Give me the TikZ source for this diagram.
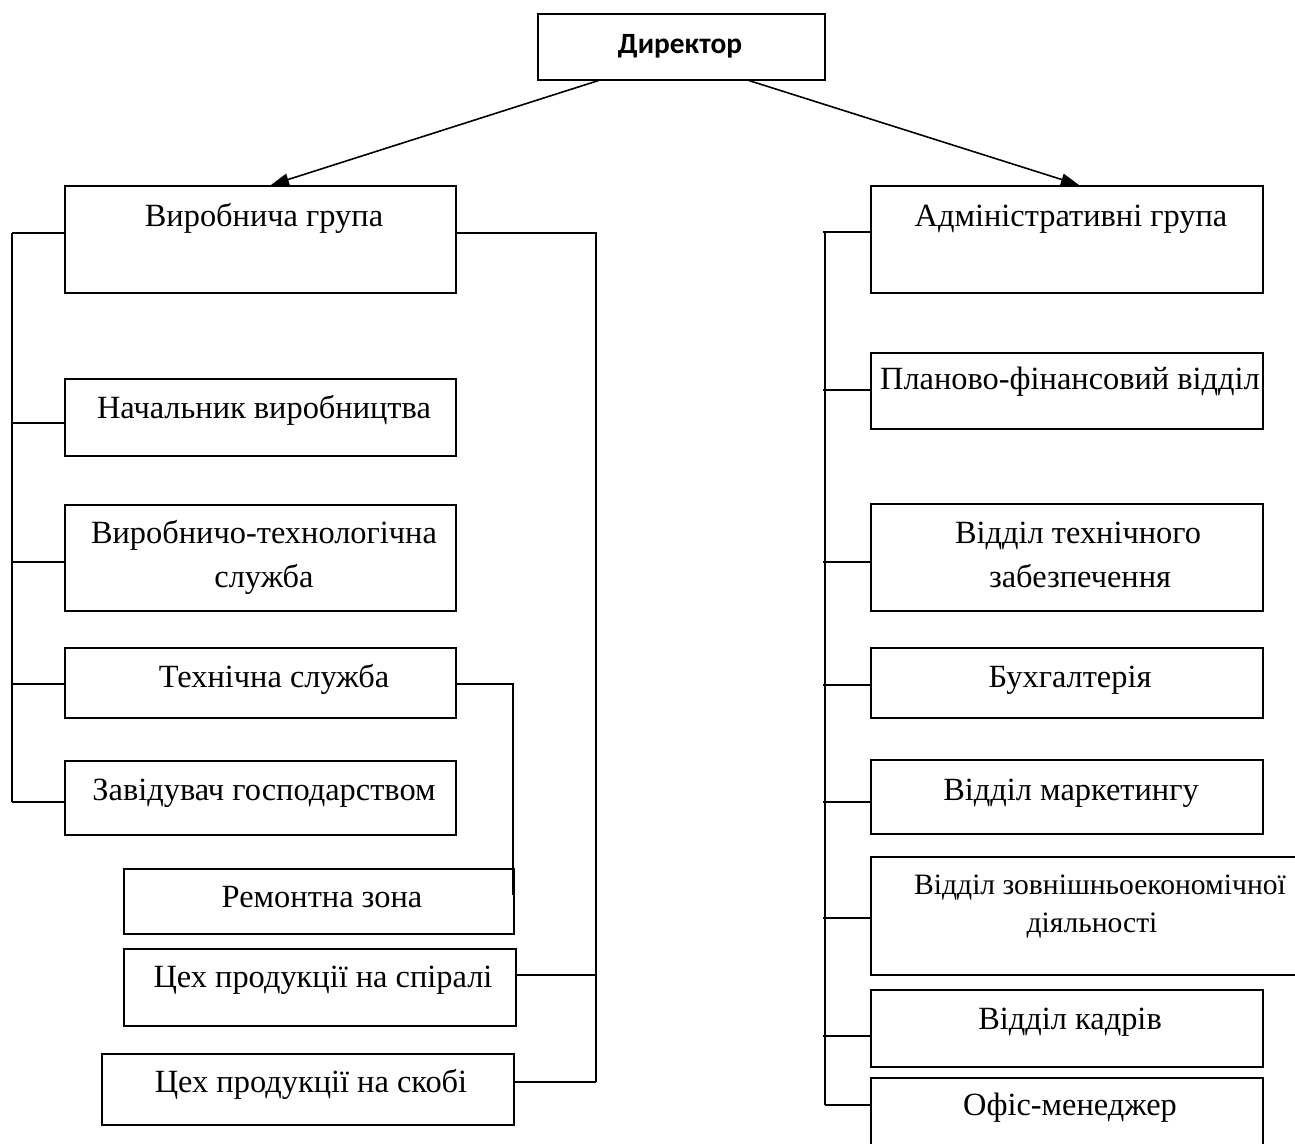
\documentclass[tikz,border=0pt]{standalone}
\usepackage{fontspec}
\setmainfont{Liberation Serif}
\newfontfamily\calfont{Carlito}
\usetikzlibrary{arrows.meta,calc}
\newcommand\mkbox[5]{\node[box, minimum width={(#4-#2)*0.5pt}, minimum height={(#5-#3)*0.5pt}] (#1) at (#2,#3) {};}
\begin{document}
\begin{tikzpicture}[x=0.5pt,y=-0.5pt,
  box/.style={draw, line width=0.8pt, inner sep=0pt, anchor=north west},
  txt/.style={anchor=base, inner sep=0pt, font=\fontsize{16.2pt}{20pt}\selectfont},
  stxt/.style={anchor=base, inner sep=0pt, font=\fontsize{14.8pt}{18pt}\selectfont},
  btxt/.style={anchor=base, inner sep=0pt, font=\calfont\bfseries\fontsize{14.7pt}{18pt}\selectfont},
  lnk/.style={line width=0.8pt},
  arr/.style={line width=0.8pt, -{Triangle[length=9pt,width=6pt]}}]
\useasboundingbox (0,0) rectangle (1295,1144);
\clip (0,0) rectangle (1295,1144);

% boxes
\mkbox{dir}{537}{13}{824}{79}
\mkbox{vg}{64}{185}{455}{292}
\mkbox{nv}{64}{378}{455}{455}
\mkbox{vts}{64}{504}{455}{610}
\mkbox{ts}{64}{647}{455}{717}
\mkbox{zg}{64}{760}{455}{834}
\mkbox{rz}{123}{868}{513}{933}
\mkbox{cs}{123}{948}{515}{1025}
\mkbox{csk}{101}{1053}{513}{1124}
\mkbox{adm}{870}{185}{1262}{292}
\mkbox{pl}{870}{352}{1262}{428}
\mkbox{vt}{870}{503}{1262}{610}
\mkbox{buh}{870}{647}{1262}{717}
\mkbox{mk}{870}{759}{1262}{833}
\mkbox{zed}{870}{856}{1320}{974}
\mkbox{kd}{870}{989}{1262}{1066}
\mkbox{of}{870}{1077}{1262}{1170}

% texts
\node[btxt] (tdir) at (680,54) {Директор};
\node[txt] (tvg) at (264,227) {Виробнича група};
\node[txt] (tnv) at (264,418) {Начальник виробництва};
\node[txt] (tvts1) at (264,543) {Виробничо-технологічна};
\node[txt] (tvts2) at (264,587) {служба};
\node[txt] (tts) at (274,687) {Технічна служба};
\node[txt] (tzg) at (264,800) {Завідувач господарством};
\node[txt] (trz) at (322,907) {Ремонтна зона};
\node[txt] (tcs) at (323,987) {Цех продукції на спіралі};
\node[txt] (tcsk) at (311,1092) {Цех продукції на скобі};
\node[txt] (tadm) at (1071,227) {Адміністративні група};
\node[txt] (tpl) at (1070,390) {Планово-фінансовий відділ};
\node[txt] (tvt1) at (1078,543) {Відділ технічного};
\node[txt] (tvt2) at (1080,587) {забезпечення};
\node[txt] (tbuh) at (1070,687) {Бухгалтерія};
\node[txt] (tmk) at (1071,800) {Відділ маркетингу};
\node[stxt] (tzed1) at (1100,894) {Відділ зовнішньоекономічної};
\node[stxt] (tzed2) at (1092,932) {діяльності};
\node[txt] (tkd) at (1070,1029) {Відділ кадрів};
\node[txt] (tof) at (1070,1115) {Офіс-менеджер};

% arrows from director
\draw[arr] ($(dir.south west)!0.2125!(dir.south east)$) -- ($(vg.north west)!0.527!(vg.north east)$);
\draw[arr] ($(dir.south west)!0.735!(dir.south east)$) -- ($(adm.north west)!0.531!(adm.north east)$);

% left bus
\coordinate (lb1) at (12,233);
\coordinate (lb2) at (12,423);
\coordinate (lb3) at (12,562);
\coordinate (lb4) at (12,684);
\coordinate (lb5) at (12,802);
\draw[lnk] (lb1) -- (lb5);
\draw[lnk] (lb1) -- (vg.west |- lb1);
\draw[lnk] (lb2) -- (nv.west |- lb2);
\draw[lnk] (lb3) -- (vts.west |- lb3);
\draw[lnk] (lb4) -- (ts.west |- lb4);
\draw[lnk] (lb5) -- (zg.west |- lb5);

% right bus of production group
\coordinate (rb1) at (596,233);
\coordinate (rb2) at (596,975);
\coordinate (rb3) at (596,1082);
\draw[lnk] (vg.east |- rb1) -- (rb1) -- (rb3);
\draw[lnk] (cs.east |- rb2) -- (rb2);
\draw[lnk] (csk.east |- rb3) -- (rb3);

% technical service line
\coordinate (tk1) at (513,684);
\coordinate (tk2) at (513,895);
\draw[lnk] (ts.east |- tk1) -- (tk1) -- (tk2);

% admin bus
\coordinate (ab1) at (825,232);
\coordinate (ab2) at (825,390);
\coordinate (ab3) at (825,562);
\coordinate (ab4) at (825,685);
\coordinate (ab5) at (825,802);
\coordinate (ab6) at (825,918);
\coordinate (ab7) at (825,1036);
\coordinate (ab8) at (825,1105);
\draw[lnk] (ab1) -- (ab8);
\draw[lnk] ([xshift=-1pt]ab1) -- (adm.west |- ab1);
\draw[lnk] ([xshift=-1pt]ab2) -- (pl.west |- ab2);
\draw[lnk] ([xshift=-1pt]ab3) -- (vt.west |- ab3);
\draw[lnk] ([xshift=-1pt]ab4) -- (buh.west |- ab4);
\draw[lnk] ([xshift=-1pt]ab5) -- (mk.west |- ab5);
\draw[lnk] ([xshift=-1pt]ab6) -- (zed.west |- ab6);
\draw[lnk] ([xshift=-1pt]ab7) -- (kd.west |- ab7);
\draw[lnk] (ab8) -- (of.west |- ab8);
\end{tikzpicture}
\end{document}
